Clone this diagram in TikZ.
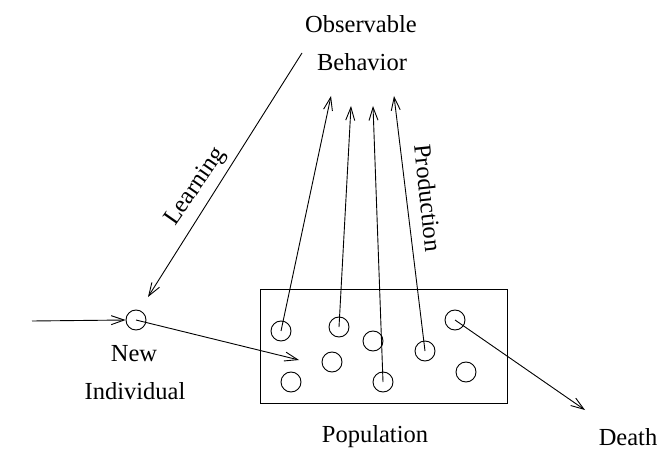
\documentclass[tikz,border=0pt]{standalone}
\usepackage{fontspec}
\setmainfont{Liberation Serif}
\usetikzlibrary{arrows.meta}
\begin{document}
\begin{tikzpicture}[
	x=1pt, y=-1pt,
	every node/.style={ font=\fontsize{24.5}{29}\selectfont },
	agent/.style={ circle, draw, line width=0.9pt, inner sep=0pt, minimum size=20pt },
	flow/.style={ line width=0.9pt, -{Straight Barb[length=13pt,width=9pt,line width=0.9pt]} }
]
\useasboundingbox (0,0) rectangle (669,462);

\node at (361,24) (obs) {Observable};
\node at (362,62) (beh) {Behavior};
\coordinate (learnstart) at (302,53);
\coordinate (learnend) at (148,297);
\draw[flow] (learnstart) -- (learnend);
\node at (196,187) (learn) [rotate=55] {Learning};

\node at (136,320) (new) [agent] {};
\coordinate (born) at (32,321);
\draw[flow] (born) -- (new.west);
\node at (134,354) (newlbl) {New};
\node at (135,391) {Individual};

\draw[line width=0.9pt] (260,289) rectangle (507,403);
\node at (375,437) (pop) {Population};
\node at (281,331) (a1) [agent] {};
\node at (339,327) (a2) [agent] {};
\node at (373,341) (a3) [agent] {};
\node at (332,362) (a4) [agent] {};
\node at (291,382) (a5) [agent] {};
\node at (383,382) (a6) [agent] {};
\node at (425,351) (a7) [agent] {};
\node at (455,320) (a8) [agent] {};
\node at (466,372) (a9) [agent] {};

\coordinate (enter) at (299,360);
\draw[flow] (new.center) -- (enter);

\coordinate (p1) at (331,96);
\coordinate (p2) at (351,106);
\coordinate (p3) at (373,106);
\coordinate (p4) at (394,96);
\draw[flow] (a1.center) -- (p1);
\draw[flow] (a2.center) -- (p2);
\draw[flow] (a6.center) -- (p3);
\draw[flow] (a7.center) -- (p4);
\node at (428,198) (prod) [rotate=-84] {Production};

\node at (628,437) (death) {Death};
\coordinate (dies) at (585,410);
\draw[flow] (a8.center) -- (dies);

\end{tikzpicture}
\end{document}
